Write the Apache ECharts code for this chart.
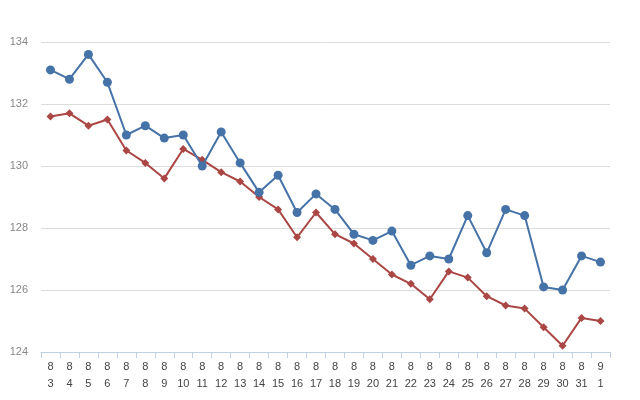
<!DOCTYPE html>
<html>
<head>
<meta charset="utf-8">
<script src="https://cdn.jsdelivr.net/npm/echarts@6/dist/echarts.min.js"></script>
<style>
  html, body { margin: 0; padding: 0; background: #fff; }
  #chart { width: 640px; height: 400px; }
</style>
</head>
<body>
<div id="chart"></div>
<script>
// dates as month / day, shown on two lines
const months = ['8','8','8','8','8','8','8','8','8','8','8','8','8','8','8','8','8','8','8','8','8','8','8','8','8','8','8','8','8','9'];
const days = ['3','4','5','6','7','8','9','10','11','12','13','14','15','16','17','18','19','20','21','22','23','24','25','26','27','28','29','30','31','1'];

const blueValues = [133.1, 132.8, 133.6, 132.7, 131.0, 131.3, 130.9, 131.0, 130.0, 131.1,
  130.1, 129.15, 129.7, 128.5, 129.1, 128.6, 127.8, 127.6, 127.9, 126.8,
  127.1, 127.0, 128.4, 127.2, 128.6, 128.4, 126.1, 126.0, 127.1, 126.9];
const redValues = [131.6, 131.7, 131.3, 131.5, 130.5, 130.1, 129.6, 130.55, 130.2, 129.8,
  129.5, 129.0, 128.6, 127.7, 128.5, 127.8, 127.5, 127.0, 126.5, 126.2,
  125.7, 126.6, 126.4, 125.8, 125.5, 125.4, 124.8, 124.2, 125.1, 125.0];

const yTicks = {min: 124, max: 134, interval: 2};

const categories = months.map((m, i) => m + '\n' + days[i]);

const chart = echarts.init(document.getElementById('chart'));
chart.setOption({
  animation: false,
  grid: {left: 41, right: 30, top: 42, bottom: 48},
  xAxis: {
    type: 'category',
    data: categories,
    boundaryGap: true,
    axisLine: {lineStyle: {color: '#c0d0e0', width: 1}},
    axisTick: {show: true, length: 6, lineStyle: {color: '#c0d0e0'}},
    axisLabel: {
      color: '#444',
      fontFamily: 'Liberation Sans',
      fontSize: 11,
      lineHeight: 17,
      margin: 6,
      interval: 0
    }
  },
  yAxis: {
    type: 'value',
    min: yTicks.min,
    max: yTicks.max,
    interval: yTicks.interval,
    axisLine: {show: false},
    axisTick: {show: false},
    splitLine: {lineStyle: {color: '#dcdcdc', width: 1}},
    axisLabel: {
      color: '#888',
      fontFamily: 'Liberation Sans',
      fontSize: 11,
      margin: 13
    }
  },
  series: [
    {
      name: 'blue',
      type: 'line',
      data: blueValues,
      symbol: 'circle',
      symbolSize: 9,
      itemStyle: {color: '#4572a7'},
      lineStyle: {color: '#4572a7', width: 2},
      z: 3
    },
    {
      name: 'red',
      type: 'line',
      data: redValues,
      symbol: 'diamond',
      symbolSize: 8,
      itemStyle: {color: '#aa4643'},
      lineStyle: {color: '#aa4643', width: 2},
      z: 2
    }
  ]
});
</script>
</body>
</html>
